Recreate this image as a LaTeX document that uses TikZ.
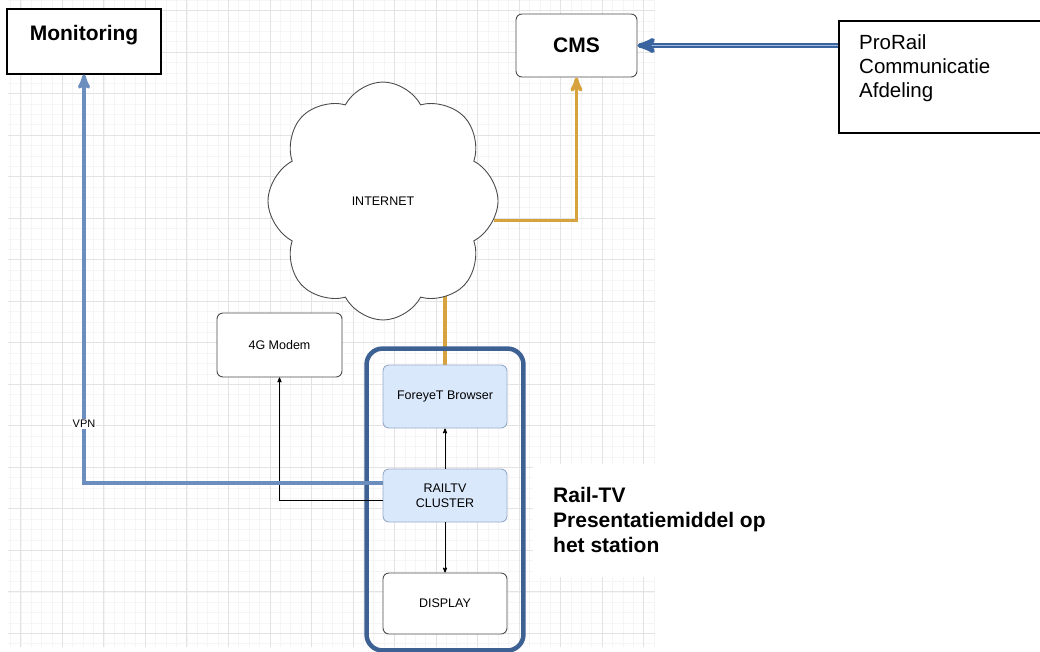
\documentclass[tikz,border=0pt]{standalone}
\usepackage{fontspec}
\setmainfont{Liberation Sans}
\usetikzlibrary{positioning}
\usetikzlibrary{fit}
\usetikzlibrary{arrows}
\usetikzlibrary{shapes.symbols}
\definecolor{vpnblue}{RGB}{108,142,191}
\definecolor{webgold}{RGB}{214,163,62}
\definecolor{frameblue}{RGB}{62,97,148}
\definecolor{cellfill}{RGB}{218,232,252}
\definecolor{celldraw}{RGB}{150,170,200}
\definecolor{linkblue}{RGB}{58,100,160}
\definecolor{linklight}{RGB}{160,186,222}
\pgfdeclarelayer{gridlayer}
\pgfdeclarelayer{background}
\pgfsetlayers{gridlayer,background,main}
\tikzset{>=stealth'}
\tikzset{minorgrid/.style={draw=black!4,line width=0.5pt}}
\tikzset{majorgrid/.style={draw=black!11,line width=0.7pt}}
\tikzset{plain/.style={draw=black,line width=1.1pt,fill=white}}
\tikzset{soft/.style={draw=black!70,line width=0.9pt,rounded corners=6pt,fill=white,font=\fontsize{12.5}{15}\selectfont}}
\tikzset{cell/.style={soft,draw=celldraw,fill=cellfill,minimum width=124pt}}
\tikzset{title/.style={font=\fontsize{21}{24}\selectfont\bfseries}}
\tikzset{vpnline/.style={draw=vpnblue,line width=3.5pt}}
\tikzset{webline/.style={draw=webgold,line width=3.5pt}}
\tikzset{thin/.style={draw=black,line width=0.8pt}}

\begin{document}
\begin{tikzpicture}[x=1pt,y=-1pt]
\useasboundingbox (0,0) rectangle (1040,651);

%%% Grid:
\begin{pgfonlayer}{gridlayer}
\foreach \k in {1,...,63} \draw[minorgrid] ({\k*10.38},0) -- ({\k*10.38},647);
\foreach \k in {0,...,62} \draw[minorgrid] (8,{\k*10.38+0.1}) -- (655,{\k*10.38+0.1});
\foreach \k in {2,6,...,62} \draw[majorgrid] ({\k*10.38},0) -- ({\k*10.38},647);
\foreach \k in {1,5,...,61} \draw[majorgrid] (8,{\k*10.38+0.1}) -- (655,{\k*10.38+0.1});
\end{pgfonlayer}

%%% Top:
\node[plain,title,minimum width=154pt,inner ysep=0pt,text height=31.5pt,text depth=33.5pt] (mon) at (84,41.5) {Monitoring};
\node[soft,title,minimum width=121pt,minimum height=63pt] (cms) at (576.5,45.5) {CMS};
\node[plain,minimum width=206pt,minimum height=112pt] (pro) at (942,77) {};
\node[anchor=north west,align=left,inner sep=0pt,font=\fontsize{20.5}{24}\selectfont] (protext) at (859,34) {ProRail\\Communicatie\\Afdeling};

\node[cloud,cloud puffs=8,cloud puff arc=125,draw=black!70,line width=0.9pt,fill=white,
 minimum width=230pt,minimum height=238pt,font=\fontsize{12.5}{15}\selectfont] (inet) at (383,201) {INTERNET};

\draw[->,draw=linkblue,line width=1.6pt,double=linklight,double distance=1.3pt] (pro.west |- cms.east) -- (cms.east);
\draw[webline,->] (inet.-10) -| (cms.south);

%%% Station:
\node[soft,minimum width=125pt,minimum height=64pt] (modem) at (279.5,345) {4G Modem};

\node[cell,minimum height=63pt] (fb) at (445,396.5) {ForeyeT Browser};
\node[cell,minimum height=53pt,align=center] (clu) [below=99pt of fb.center,anchor=center] {RAILTV\\CLUSTER};
\node[soft,minimum width=124pt,minimum height=61pt] (dsp) [below=108pt of clu.center,anchor=center] {DISPLAY};

\node[draw=frameblue,line width=4.5pt,rounded corners=16pt,fit=(fb) (dsp),inner xsep=16pt,inner ysep=16pt] (box) {};

\draw[thin,->] (clu) -- (fb);
\draw[thin,->] (clu) -- (dsp);
\draw[thin,->] ([yshift=-5pt]clu.west) -| (modem.south);

\begin{pgfonlayer}{background}
\draw[webline] (fb.north) -- (fb.north |- inet.center);
\end{pgfonlayer}

\draw[vpnline,->] ([yshift=12.5pt]clu.west) -| (mon.south)
 node[pos=0.572,fill=white,inner sep=1pt,font=\fontsize{11}{13}\selectfont] (vpn) {VPN};

\node[anchor=west,align=left,fill=white,inner xsep=20pt,inner ysep=0pt,minimum height=113pt,
 font=\fontsize{21}{25}\selectfont\bfseries] (rtv) at (533,520) {Rail-TV\\Presentatiemiddel op\\het station};

\end{tikzpicture}
\end{document}
